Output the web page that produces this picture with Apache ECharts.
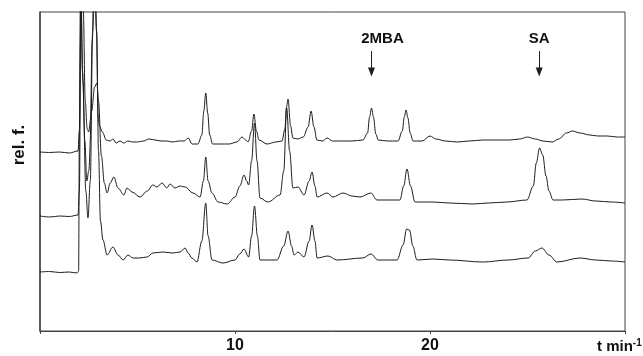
<!DOCTYPE html>
<html>
<head>
<meta charset="utf-8">
<script src="https://cdn.jsdelivr.net/npm/echarts/dist/echarts.min.js"></script>
<style>
html, body { margin: 0; padding: 0; background: #fff; }
#chart_ctn { width: 643px; height: 356px; }
</style>
</head>
<body>
<div id="chart_ctn"></div>
<script>
lineColor = '#1e1e1e'
frameColor = '#444'
fontFam = 'Liberation Sans, Arial, sans-serif'

// time axis ticks (min) that carry a label
xTickLabels = [10, 20];

// peak annotations: name, retention time (min), arrow top / tip (rel. f. units)
peakNames = ['2MBA', 'SA'];
peakTimes = [17.0, 25.6];
arrowTop = [280, 280];
arrowTip = [259, 259];

// chromatograms: [t (min), rel. f.], offset stacked
traceTop = [
  [0, 179], [0.5, 178.5], [1.0, 179], [1.5, 178], [1.95, 180], [2.02, 200], [2.1, 330], [2.15, 380],
  [2.22, 320], [2.32, 230], [2.42, 202], [2.5, 199], [2.58, 210], [2.68, 290], [2.8, 380], [2.9, 300],
  [2.98, 215], [3.05, 205], [3.2, 199], [3.4, 191], [3.6, 190], [3.75, 192], [3.9, 188], [4.1, 190],
  [4.3, 188], [4.5, 190], [4.75, 189], [5.0, 189], [5.3, 190], [5.6, 192], [5.9, 191], [6.2, 190],
  [6.5, 190], [6.8, 189], [7.1, 190], [7.4, 190], [7.6, 193], [7.8, 187], [8.1, 187], [8.3, 196],
  [8.4, 220], [8.5, 238], [8.6, 218], [8.7, 196], [8.85, 187], [9.2, 187], [9.7, 187], [10.1, 189],
  [10.36, 194], [10.55, 191], [10.67, 189], [10.85, 200], [10.97, 217], [11.1, 200], [11.23, 191],
  [11.64, 187], [12.1, 189], [12.41, 190], [12.56, 202], [12.64, 224], [12.72, 232], [12.85, 205],
  [12.97, 193], [13.2, 192], [13.5, 194], [13.75, 204], [13.9, 220], [14.05, 204], [14.2, 191],
  [14.5, 190], [14.72, 193], [15.0, 190], [15.5, 190], [16.0, 190], [16.56, 191], [16.8, 198],
  [16.9, 214], [17.0, 223], [17.1, 214], [17.22, 197], [17.35, 191], [17.8, 190], [18.36, 190],
  [18.58, 200], [18.68, 214], [18.77, 221], [18.87, 213], [18.98, 198], [19.13, 190], [19.6, 190],
  [20.0, 195], [20.3, 192], [20.8, 190], [21.4, 189], [22.0, 190], [22.7, 191], [23.5, 191],
  [24.1, 191], [24.6, 192], [25.0, 194], [25.4, 192], [25.8, 190], [26.26, 189], [26.6, 192],
  [27.0, 198], [27.3, 200], [27.7, 198], [28.2, 196], [28.6, 195], [29.1, 195], [29.6, 194], [30, 194]
];

traceMid = [
  [0, 115], [0.5, 114], [1.0, 115], [1.5, 114.5], [1.95, 116], [2.02, 140], [2.1, 330], [2.18, 260],
  [2.3, 190], [2.4, 150], [2.5, 160], [2.65, 220], [2.8, 244], [2.92, 248], [3.0, 230], [3.15, 175],
  [3.3, 148], [3.44, 138], [3.6, 148], [3.79, 154], [4.0, 143], [4.3, 136], [4.46, 143], [4.72, 139],
  [5.13, 134], [5.5, 140], [5.79, 146], [6.0, 144], [6.26, 148], [6.5, 143], [6.67, 147], [6.92, 143],
  [7.2, 145], [7.44, 144], [7.85, 138], [8.21, 134], [8.38, 150], [8.5, 174], [8.62, 150], [8.82, 138],
  [9.13, 129], [9.6, 127], [10.0, 134], [10.25, 145], [10.46, 156], [10.6, 150], [10.7, 146],
  [10.85, 170], [11.0, 208], [11.13, 170], [11.28, 133], [11.69, 129], [12.31, 136], [12.5, 160],
  [12.65, 223], [12.8, 180], [12.97, 143], [13.23, 144], [13.54, 136], [13.8, 150], [13.95, 159],
  [14.1, 145], [14.21, 134], [14.72, 138], [15.03, 134], [15.54, 138], [16.0, 135], [16.41, 134],
  [16.97, 138], [17.28, 131], [18.0, 131], [18.46, 131], [18.65, 145], [18.82, 162], [19.0, 145],
  [19.23, 129], [20.15, 129], [21.0, 128], [22.21, 127], [23.0, 128], [23.95, 129], [24.97, 131],
  [25.3, 145], [25.45, 168], [25.62, 183], [25.78, 176], [25.95, 155], [26.1, 140], [26.31, 131],
  [26.8, 131], [27.79, 132], [28.5, 130], [29.3, 129], [30, 128]
];

traceBottom = [
  [0, 59], [0.5, 59.5], [1.0, 58.5], [1.5, 59], [1.9, 58], [1.98, 60], [2.02, 200], [2.08, 360],
  [2.2, 250], [2.35, 140], [2.46, 113], [2.58, 150], [2.7, 300], [2.8, 360], [2.9, 300], [3.0, 180],
  [3.1, 110], [3.23, 91], [3.44, 76], [3.74, 84], [4.0, 76], [4.26, 71], [4.51, 76], [4.77, 73],
  [5.1, 73], [5.49, 74], [5.79, 78], [6.3, 79], [6.82, 78], [7.18, 79], [7.44, 83], [7.6, 78],
  [7.79, 73], [8.05, 69], [8.3, 90], [8.5, 128], [8.62, 95], [8.82, 71], [9.38, 68], [10.0, 71],
  [10.25, 77], [10.46, 82], [10.7, 74], [10.85, 95], [11.0, 125], [11.15, 95], [11.28, 71],
  [12.15, 71], [12.5, 85], [12.72, 100], [12.9, 85], [13.03, 76], [13.23, 79], [13.54, 74],
  [13.8, 90], [13.95, 106], [14.1, 90], [14.21, 73], [14.77, 75], [15.23, 71], [16.56, 73],
  [16.97, 77], [17.33, 71], [18.31, 71], [18.62, 86], [18.8, 102], [18.95, 101], [19.12, 85],
  [19.33, 71], [20.15, 72], [21.0, 71], [22.72, 69], [24.0, 71], [25.03, 73], [25.4, 80], [25.74, 83],
  [26.1, 76], [26.51, 69], [27.69, 73], [28.5, 71], [29.3, 70], [30, 69]
];

// horizontal nudge of each annotation label relative to its arrow (px)
labelShift = [22, 0];

function traceSeries(data) {
    return {
        type: 'line',
        data: data,
        showSymbol: false,
        smooth: 0.35,
        smoothMonotone: 'x',
        clip: true,
        lineStyle: { color: lineColor, width: 1 },
        silent: true
    };
}

var arrows = peakNames.map(function (name, i) {
    return [
        { coord: [peakTimes[i], arrowTop[i]], name: name, label: { padding: [0, 0, 0, labelShift[i]] } },
        { coord: [peakTimes[i], arrowTip[i]] }
    ];
});

var s0 = traceSeries(traceTop);
s0.markLine = {
    silent: true,
    symbol: ['none', 'triangle'],
    symbolSize: [7, 9],
    lineStyle: { color: lineColor, width: 1, type: 'solid' },
    label: {
        show: true,
        position: 'start',
        distance: 5,
        formatter: '{b}',
        color: '#111',
        fontFamily: fontFam,
        fontWeight: 'bold',
        fontSize: 15
    },
    data: arrows
};

option = {
    animation: false,
    backgroundColor: '#fff',
    grid: {
        left: 40,
        right: 18,
        top: 12,
        bottom: 25,
        show: true,
        borderColor: frameColor,
        borderWidth: 1
    },
    xAxis: {
        type: 'value',
        min: 0,
        max: 30,
        interval: 10,
        axisLine: { show: true, lineStyle: { color: frameColor, width: 1 } },
        axisTick: { show: true, length: 3, lineStyle: { color: frameColor } },
        splitLine: { show: false },
        axisLabel: {
            margin: 7,
            color: '#111',
            fontFamily: fontFam,
            fontWeight: 'bold',
            fontSize: 16,
            formatter: function (v) { return xTickLabels.indexOf(v) >= 0 ? String(v) : ''; }
        }
    },
    yAxis: {
        type: 'value',
        min: 0,
        max: 319,
        axisLine: { show: true, lineStyle: { color: frameColor, width: 1.5 } },
        axisTick: { show: false },
        axisLabel: { show: false },
        splitLine: { show: false }
    },
    graphic: [
        {
            type: 'text',
            x: 19,
            y: 145,
            rotation: Math.PI / 2,
            style: {
                text: 'rel. f.',
                fill: '#111',
                font: 'bold 17px ' + fontFam,
                textAlign: 'center',
                textVerticalAlign: 'middle'
            }
        },
        {
            type: 'text',
            x: 597,
            y: 347,
            style: {
                text: 't min{sup|-1}',
                fill: '#111',
                font: 'bold 15px ' + fontFam,
                textVerticalAlign: 'middle',
                rich: {
                    sup: { fontSize: 10, fontWeight: 'bold', fontFamily: fontFam, verticalAlign: 'top', padding: [0, 0, 8, 0] }
                }
            }
        }
    ],
    series: [s0, traceSeries(traceMid), traceSeries(traceBottom)]
};

var myChart = echarts.init(document.getElementById('chart_ctn'));
myChart.setOption(option);
</script>
</body>
</html>
